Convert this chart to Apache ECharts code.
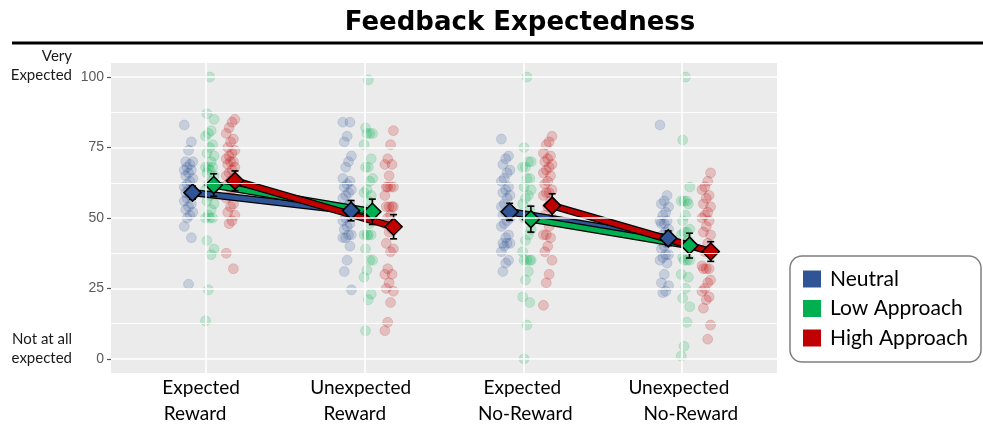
<!DOCTYPE html>
<html>
<head>
<meta charset="utf-8">
<script src="https://cdn.jsdelivr.net/npm/echarts@6/dist/echarts.min.js"></script>
<style>
  html, body { margin: 0; padding: 0; background: #ffffff; }
  #chart { width: 983px; height: 425px; }
</style>
</head>
<body>
<div id="chart"></div>
<script>
// Feedback conditions (x categories), each label split over two lines
const conditionLines = [
  ['Expected', 'Reward'],
  ['Unexpected', 'Reward'],
  ['Expected', 'No-Reward'],
  ['Unexpected', 'No-Reward']
];
const groupNames = ['Neutral', 'Low Approach', 'High Approach'];
const yTicks = [0, 25, 50, 75, 100];

// Individual expectedness ratings, one list per condition
const neutralScores = [
  [83, 77, 74, 70, 70, 69, 68, 67, 67, 66, 65, 64, 63, 62, 61, 60, 60, 59, 58, 58, 57, 56, 55, 54, 53, 52, 51, 50, 47, 43, 26.5],
  [84, 84, 79, 77, 72, 70, 68, 64, 63, 62, 61, 60, 59, 58, 57, 55, 54, 53, 52, 51, 50, 49, 48, 47, 46, 44, 44, 43, 43, 40, 35, 31, 24.5],
  [78, 72, 71, 69, 67, 66, 64, 63, 61, 60, 59, 58, 57, 55, 54, 53, 52, 51, 50, 49, 48, 47, 44, 43, 41, 41, 41, 40, 38, 35, 34, 31],
  [83, 58, 56, 55, 54, 52, 51, 49, 49, 48, 48, 46, 45, 44, 42, 41, 40, 39, 37, 37, 36, 35, 34, 30, 27, 26, 24, 23.5]
];
const lowScores = [
  [100, 87, 85, 81, 80, 79, 76, 75, 73, 72, 70, 68, 68, 68, 67, 66, 65, 63, 62, 60, 59, 58, 56, 55, 53, 51, 50, 50, 50, 42, 39, 37, 24.5, 13.5],
  [99, 82, 80, 80, 80, 76, 71, 68, 68, 64, 63, 60, 59, 58, 56, 53, 51, 48, 44, 44, 44, 44, 39, 35, 35, 31.5, 29, 23, 21, 10],
  [100, 75, 70, 70, 68, 68, 64, 64, 61, 60, 58, 57, 55, 53, 51, 50, 46, 44, 42, 38, 35, 35, 35, 35, 31, 28, 22, 20, 12, 0],
  [100, 77.7, 61, 56, 56, 56, 55, 51, 49, 46, 45, 45, 44, 42, 41, 36, 35, 35, 35, 30, 29, 25, 21.5, 18.5, 13, 4.5, 1]
];
const highScores = [
  [85, 84, 82, 80, 78, 77, 75, 74, 73, 72, 71, 70, 70, 69, 68, 67, 66, 65, 64, 63, 62, 61, 60, 58, 57, 55, 54, 52, 51, 49, 48, 37.5, 32],
  [81, 76, 71, 69, 69, 65, 61, 61, 61, 61, 58, 54, 54, 54, 54, 51, 50, 48, 46, 45, 41, 39, 38, 32, 30, 30, 27, 25, 24, 20, 13, 10],
  [79, 77, 76, 73, 72, 71, 70, 69, 68, 67, 66, 65, 63, 62, 60, 59, 59, 58, 56, 54, 51, 50, 47, 44, 44, 43, 40, 38, 35, 30, 27, 19],
  [66, 63, 61, 60, 58, 57, 55, 54, 52, 51, 50, 49, 47, 45, 44, 41, 38, 33, 32, 32, 32, 28, 27, 25, 24, 22, 21, 18, 12, 7]
];

// Group means and standard errors per condition
const neutralMean = [59.0, 52.6, 52.2, 42.8];
const lowMean = [61.7, 52.2, 49.6, 40.2];
const highMean = [63.2, 46.9, 54.4, 38.1];
const neutralSE = [2.3, 3.6, 3.0, 2.6];
const lowSE = [4.0, 4.5, 4.6, 4.4];
const highSE = [3.5, 4.3, 4.2, 3.5];

const scoresByGroup = [neutralScores, lowScores, highScores];
const meansByGroup = [neutralMean, lowMean, highMean];
const seByGroup = [neutralSE, lowSE, highSE];

// Styling
const groupColors = ['#2f5597', '#00b050', '#c00000'];
const groupRGB = ['47,85,151', '0,176,80', '192,0,0'];
const dotShift = [-0.111, 0.023, 0.154];   // dodge of raw ratings within a condition
const meanShift = [-0.086, 0.048, 0.182];  // dodge of the mean markers
const labelFont = 'Lato';

// small deterministic horizontal spread so tied ratings stay visible
function spread(i) { return (((i * 5) % 7) - 3) * 0.009; }

const series = [];

// panel grid lines
const gridLines = [];
yTicks.forEach(v => gridLines.push({ yAxis: v, lineStyle: { color: '#ffffff', width: 1.6 } }));
[12.5, 37.5, 62.5, 87.5].forEach(v => gridLines.push({ yAxis: v, lineStyle: { color: '#ffffff', width: 0.9 } }));
[1, 2, 3, 4].forEach(v => gridLines.push({ xAxis: v, lineStyle: { color: '#ffffff', width: 1.6 } }));
series.push({
  type: 'scatter', data: [], silent: true, z: 0,
  markLine: { silent: true, symbol: 'none', label: { show: false }, animation: false,
    lineStyle: { type: 'solid' }, data: gridLines }
});

// raw ratings
scoresByGroup.forEach((scores, gi) => {
  const pts = [];
  scores.forEach((list, ci) => list.forEach((v, i) => {
    pts.push([ci + 1 + dotShift[gi] + spread(i + gi * 2), v]);
  }));
  series.push({
    type: 'scatter', name: groupNames[gi], data: pts, symbolSize: 10, silent: true, z: 1,
    itemStyle: { color: 'rgba(' + groupRGB[gi] + ',0.24)', borderColor: 'rgba(' + groupRGB[gi] + ',0.22)', borderWidth: 0.8 }
  });
});

// mean trend lines (outlined), broken between reward and no-reward blocks
meansByGroup.forEach((m, gi) => {
  const o = meanShift[gi];
  const path = [[1 + o, m[0]], [2 + o, m[1]], [2.5, '-'], [3 + o, m[2]], [4 + o, m[3]]];
  series.push({ type: 'line', name: groupNames[gi], data: path, symbol: 'none', z: 2, silent: true,
    connectNulls: false, lineStyle: { color: '#000000', width: 7.5, cap: 'butt' } });
  series.push({ type: 'line', name: groupNames[gi], data: path, symbol: 'none', z: 2, silent: true,
    connectNulls: false, lineStyle: { color: groupColors[gi], width: 5, cap: 'butt' } });
});

// standard error bars
meansByGroup.forEach((m, gi) => {
  const rows = m.map((v, ci) => [ci + 1 + meanShift[gi], v - seByGroup[gi][ci], v + seByGroup[gi][ci]]);
  series.push({
    type: 'custom', name: groupNames[gi], data: rows, z: 3, silent: true,
    encode: { x: 0, y: [1, 2] },
    renderItem: function (params, api) {
      const x = api.value(0);
      const top = api.coord([x, api.value(2)]);
      const bot = api.coord([x, api.value(1)]);
      const cap = 3.5;
      const st = { stroke: '#000000', lineWidth: 1.6 };
      return { type: 'group', children: [
        { type: 'line', shape: { x1: top[0], y1: top[1], x2: bot[0], y2: bot[1] }, style: st },
        { type: 'line', shape: { x1: top[0] - cap, y1: top[1], x2: top[0] + cap, y2: top[1] }, style: st },
        { type: 'line', shape: { x1: bot[0] - cap, y1: bot[1], x2: bot[0] + cap, y2: bot[1] }, style: st }
      ] };
    }
  });
});

// mean markers
meansByGroup.forEach((m, gi) => {
  series.push({
    type: 'scatter', name: groupNames[gi], z: 4, symbol: 'diamond', symbolSize: [17, 17],
    data: m.map((v, ci) => [ci + 1 + meanShift[gi], v]),
    itemStyle: { color: groupColors[gi], borderColor: '#000000', borderWidth: 1.6, opacity: 1 }
  });
});

const chart = echarts.init(document.getElementById('chart'), null, { renderer: 'canvas' });

const graphics = [
  { type: 'text', x: 520, y: 23, style: { text: 'Feedback Expectedness', fontFamily: 'DejaVu Sans', fontWeight: 'bold',
      fontSize: 26, fill: '#000000', align: 'center', verticalAlign: 'middle' } },
  { type: 'line', shape: { x1: 12, y1: 43, x2: 983, y2: 43 }, style: { stroke: '#000000', lineWidth: 3 } },
  { type: 'text', x: 72, y: 56, style: { text: 'Very', fontFamily: labelFont, fontSize: 15, fill: '#1a1a1a', align: 'right', verticalAlign: 'middle' } },
  { type: 'text', x: 72, y: 75, style: { text: 'Expected', fontFamily: labelFont, fontSize: 15, fill: '#1a1a1a', align: 'right', verticalAlign: 'middle' } },
  { type: 'text', x: 72, y: 339, style: { text: 'Not at all', fontFamily: labelFont, fontSize: 15, fill: '#1a1a1a', align: 'right', verticalAlign: 'middle' } },
  { type: 'text', x: 72, y: 358, style: { text: 'expected', fontFamily: labelFont, fontSize: 15, fill: '#1a1a1a', align: 'right', verticalAlign: 'middle' } },
  // legend box
  { type: 'rect', shape: { x: 790, y: 256, width: 191, height: 106, r: 12 },
    style: { fill: '#ffffff', stroke: '#7f7f7f', lineWidth: 1.5 } }
];
groupNames.forEach((n, gi) => {
  const cy = 279 + gi * 29.5;
  graphics.push({ type: 'rect', shape: { x: 803, y: cy - 8.5, width: 18, height: 17 }, style: { fill: groupColors[gi] } });
  graphics.push({ type: 'text', x: 830, y: cy, style: { text: n, fontFamily: labelFont, fontSize: 21, fill: '#000000',
      align: 'left', verticalAlign: 'middle' } });
});

chart.setOption({
  animation: false,
  backgroundColor: '#ffffff',
  grid: { left: 111, right: 206, top: 63, bottom: 52, show: true, backgroundColor: '#ebebeb', borderWidth: 0 },
  xAxis: {
    type: 'value', min: 0.4, max: 4.6,
    axisLine: { show: false }, axisTick: { show: false }, axisLabel: { show: false }, splitLine: { show: false }
  },
  yAxis: {
    type: 'value', min: -5, max: 105,
    axisLine: { show: false },
    splitLine: { show: false },
    axisTick: { show: true, length: 4, customValues: yTicks, lineStyle: { color: '#555555', width: 1.2 } },
    axisLabel: { customValues: yTicks, color: '#5a5a5a', fontSize: 14, fontFamily: 'Liberation Sans', margin: 7 }
  },
  tooltip: { show: false },
  graphic: graphics,
  series: series
});

// condition labels under the panel, positioned from the x scale
const xLabelShift = [[-5, -11], [-4, -10], [-1, 2], [-3, 9]];
const xLabels = [];
conditionLines.forEach((lines, ci) => {
  const px = chart.convertToPixel({ xAxisIndex: 0 }, ci + 1);
  lines.forEach((t, li) => {
    xLabels.push({ type: 'text', x: px + xLabelShift[ci][li], y: 388 + li * 26,
      style: { text: t, fontFamily: labelFont, fontSize: 19, fill: '#000000', align: 'center', verticalAlign: 'middle' } });
  });
});
chart.setOption({ graphic: graphics.concat(xLabels) });
</script>
</body>
</html>
